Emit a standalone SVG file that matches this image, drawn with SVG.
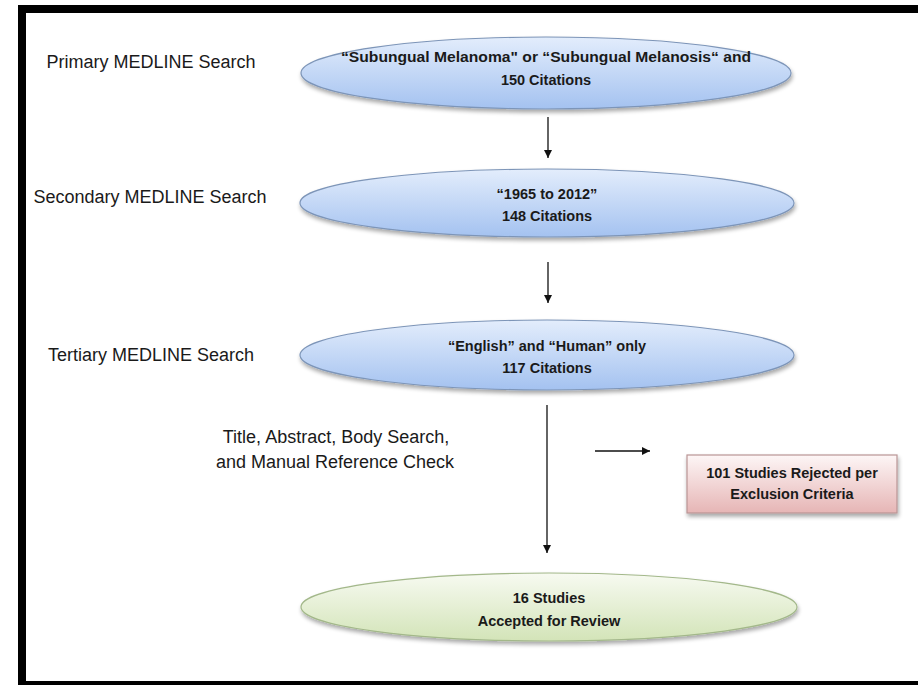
<svg xmlns="http://www.w3.org/2000/svg" width="918" height="685" viewBox="0 0 918 685">
<style>
.lbl{font-family:"Liberation Sans",Arial,sans-serif;font-size:18px;fill:#1a1a1a;text-anchor:middle}
.nt{font-family:"Liberation Sans",Arial,sans-serif;font-size:14.5px;font-weight:bold;fill:#1a1a1a;text-anchor:middle}
.blue{fill:url(#gBlue);stroke:#7d95b8;stroke-width:1.2;filter:url(#sh)}
.green{fill:url(#gGreen);stroke:#a3b88a;stroke-width:1.2;filter:url(#sh)}
.red{fill:url(#gRed);stroke:#b99595;stroke-width:1.2;filter:url(#sh)}
.con{stroke:#111;stroke-width:1.3;fill:none;marker-end:url(#ah)}
</style>
<defs>
<linearGradient id="gBlue" x1="0" y1="0" x2="0" y2="1">
<stop offset="0" stop-color="#e3edfc"/><stop offset="1" stop-color="#a4c2f0"/>
</linearGradient>
<linearGradient id="gGreen" x1="0" y1="0" x2="0" y2="1">
<stop offset="0" stop-color="#f7faf1"/><stop offset="1" stop-color="#d3e4b8"/>
</linearGradient>
<linearGradient id="gRed" x1="0" y1="0" x2="0" y2="1">
<stop offset="0" stop-color="#fdf6f6"/><stop offset="1" stop-color="#e6b5b5"/>
</linearGradient>
<filter id="sh" x="-10%" y="-20%" width="120%" height="150%">
<feGaussianBlur in="SourceAlpha" stdDeviation="2"/>
<feOffset dx="1" dy="3" result="b"/>
<feComponentTransfer><feFuncA type="linear" slope="0.35"/></feComponentTransfer>
<feMerge><feMergeNode/><feMergeNode in="SourceGraphic"/></feMerge>
</filter>
<marker id="ah" viewBox="0 0 10 10" refX="10" refY="5" markerWidth="8" markerHeight="8" markerUnits="userSpaceOnUse" orient="auto">
<path d="M0,0 L10,5 L0,10 z" fill="#111"/>
</marker>
</defs>
<rect width="918" height="685" fill="#fff"/>
<g id="frame" fill="#000">
<rect x="18" y="5" width="900" height="8"/>
<rect x="18" y="5" width="8" height="680"/>
<rect x="18" y="681" width="900" height="4"/>
</g>
<g id="labels">
<text class="lbl" x="151" y="68">Primary MEDLINE Search</text>
<text class="lbl" x="150" y="203">Secondary MEDLINE Search</text>
<text class="lbl" x="151" y="361">Tertiary MEDLINE Search</text>
<text class="lbl" x="336" y="443">Title, Abstract, Body Search,</text>
<text class="lbl" x="335" y="468">and Manual Reference Check</text>
</g>
<g id="connectors">
<line class="con" x1="548" y1="117" x2="548" y2="158"/>
<line class="con" x1="548" y1="262" x2="548" y2="303"/>
<line class="con" x1="547" y1="405" x2="547" y2="553"/>
<line class="con" x1="595" y1="451" x2="650" y2="451"/>
</g>
<g id="n1">
<ellipse class="blue" cx="546" cy="73" rx="245" ry="36"/>
<text class="nt" x="546" y="62" textLength="410" lengthAdjust="spacingAndGlyphs">“Subungual Melanoma" or “Subungual Melanosis“ and</text>
<text class="nt" x="546" y="85">150 Citations</text>
</g>
<g id="n2">
<ellipse class="blue" cx="547" cy="203" rx="247" ry="34"/>
<text class="nt" x="547" y="199">“1965 to 2012”</text>
<text class="nt" x="547" y="221">148 Citations</text>
</g>
<g id="n3">
<ellipse class="blue" cx="547" cy="355" rx="247" ry="35"/>
<text class="nt" x="547" y="351">“English” and “Human” only</text>
<text class="nt" x="547" y="373">117 Citations</text>
</g>
<g id="n4">
<rect class="red" x="687" y="455" width="210" height="58"/>
<text class="nt" x="792" y="478">101 Studies Rejected per</text>
<text class="nt" x="792" y="499">Exclusion Criteria</text>
</g>
<g id="n5">
<ellipse class="green" cx="549" cy="607" rx="248" ry="34"/>
<text class="nt" x="549" y="603">16 Studies</text>
<text class="nt" x="549" y="626">Accepted for Review</text>
</g>
</svg>
